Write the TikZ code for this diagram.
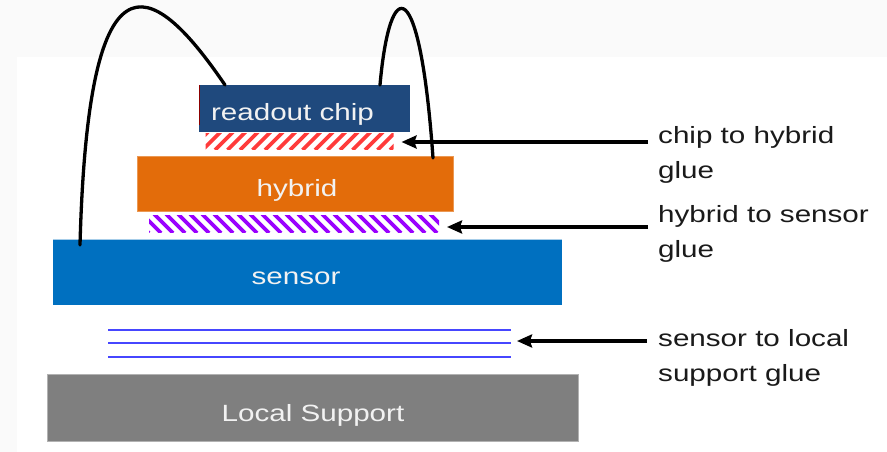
\documentclass[tikz,border=0pt]{standalone}
\usepackage{fontspec}
\setmainfont{Liberation Sans}
\newfontfamily\lab[FakeStretch=1.26]{Liberation Sans}
\usetikzlibrary{arrows.meta,calc}
\definecolor{bgrey}{HTML}{FAFAFA}
\definecolor{chipblue}{HTML}{1F497D}
\definecolor{hyborange}{HTML}{E36C0A}
\definecolor{sensblue}{HTML}{0070C0}
\definecolor{supgrey}{HTML}{7F7F7F}
\definecolor{hatchred}{HTML}{FF3B3B}
\definecolor{hatchpurple}{HTML}{9A00FF}
\definecolor{lineblue}{HTML}{4646FF}
\definecolor{boxtext}{HTML}{F2F2F2}
\definecolor{labtext}{HTML}{1A1A1A}
\tikzset{
  layer/.style={rectangle, inner sep=0pt, outer sep=0pt},
  glue/.style={rectangle, inner sep=0pt, outer sep=0pt},
  boxtxt/.style={anchor=base, inner sep=0pt, text=boxtext, font=\lab\fontsize{23.5}{28}\selectfont},
  labtxt/.style={anchor=base west, inner sep=0pt, align=left, text=labtext, font=\lab\fontsize{23.5}{35}\selectfont},
  arr/.style={line width=3.4pt, -{Stealth[length=15pt,width=13pt,inset=2pt]}},
  wire/.style={line width=3.3pt, line cap=round},
  hatch/.style={line width=3.6pt}
}
\begin{document}
\begin{tikzpicture}[x=1pt,y=-1pt]
\useasboundingbox (0,0) rectangle (887,452);
\fill[bgrey] (0,0) rectangle (887,452);
\fill[white] (17,57) rectangle (887,452);

% layers
\node[layer, fill=chipblue, minimum width=211pt, minimum height=47pt] (chip) at (304,108.5) {};
\draw[red!55!black, line width=1.5pt] (chip.north west) ++(0.75,0) -- ++(0,40);
\node[layer, fill=hyborange, draw=hyborange!70!white, line width=0.8pt, minimum width=316pt, minimum height=55pt] (hybrid) at (295,183.5) {};
\node[layer, fill=sensblue, minimum width=509pt, minimum height=66pt] (sensor) at (307.5,272) {};
\draw[sensblue!35!white, line width=1pt] (sensor.north west) -- (sensor.north east);
\node[layer, fill=supgrey, draw=supgrey!60!white, line width=0.8pt, minimum width=531pt, minimum height=67pt] (support) at (312.5,407.5) {};

% texts in layers
\node[boxtxt] (chiptxt) at (292.5,121) {readout chip};
\node[boxtxt] (hybtxt) at (297,196) {hybrid};
\node[boxtxt] (senstxt) at (296,284.5) {sensor};
\node[boxtxt] (suptxt) at (313,421) {Local Support};

% glue layers
\node[glue, minimum width=188pt, minimum height=16pt] (rglue) at (299.5,141) {};
\begin{scope}
  \clip (rglue.south west) rectangle (rglue.north east);
  \foreach \x in {190,202.5,...,400} {
    \draw[hatchred, hatch] (\x,150) -- ++(18,-18);
  }
\end{scope}
\node[glue, minimum width=290pt, minimum height=17pt] (pglue) at (294,223.5) {};
\begin{scope}
  \clip (pglue.south west) rectangle (pglue.north east);
  \foreach \x in {130,142,...,450} {
    \draw[hatchpurple, hatch] (\x,214) -- ++(19,19);
  }
\end{scope}
\node[glue, minimum width=403pt, minimum height=27pt] (bglue) at (309.5,343.5) {};
\foreach \y in {330,343,357} {
  \draw[lineblue, line width=1.7pt] (bglue.west |- 0,\y) -- (bglue.east |- 0,\y);
}

% labels (anchor base = baseline of last line)
\node[labtxt] (lab1) at (658,178) {chip to hybrid\\glue};
\node[labtxt] (lab2) at (658,257) {hybrid to sensor\\glue};
\node[labtxt] (lab3) at (658,381) {sensor to local\\support glue};

% arrows
\coordinate (a1) at (648,142);
\coordinate (a2) at (648,227);
\coordinate (a3) at (647,341);
\draw[arr] (a1) -- ($(rglue.east |- a1)+(8,0)$);
\draw[arr] (a2) -- ($(pglue.east |- a2)+(8,0)$);
\draw[arr] (a3) -- ($(bglue.east |- a3)+(6,0)$);

% wire bonds
\coordinate (w1s) at (80,245);
\coordinate (w1e) at (225,85);
\coordinate (w2s) at (380,85);
\coordinate (w2e) at (433,158);
\draw[wire] (w1s) .. controls (88,-52) and (148,-28) .. (w1e);
\draw[wire] (w2s) .. controls (390,-27) and (420,-27) .. (w2e);
\end{tikzpicture}
\end{document}
